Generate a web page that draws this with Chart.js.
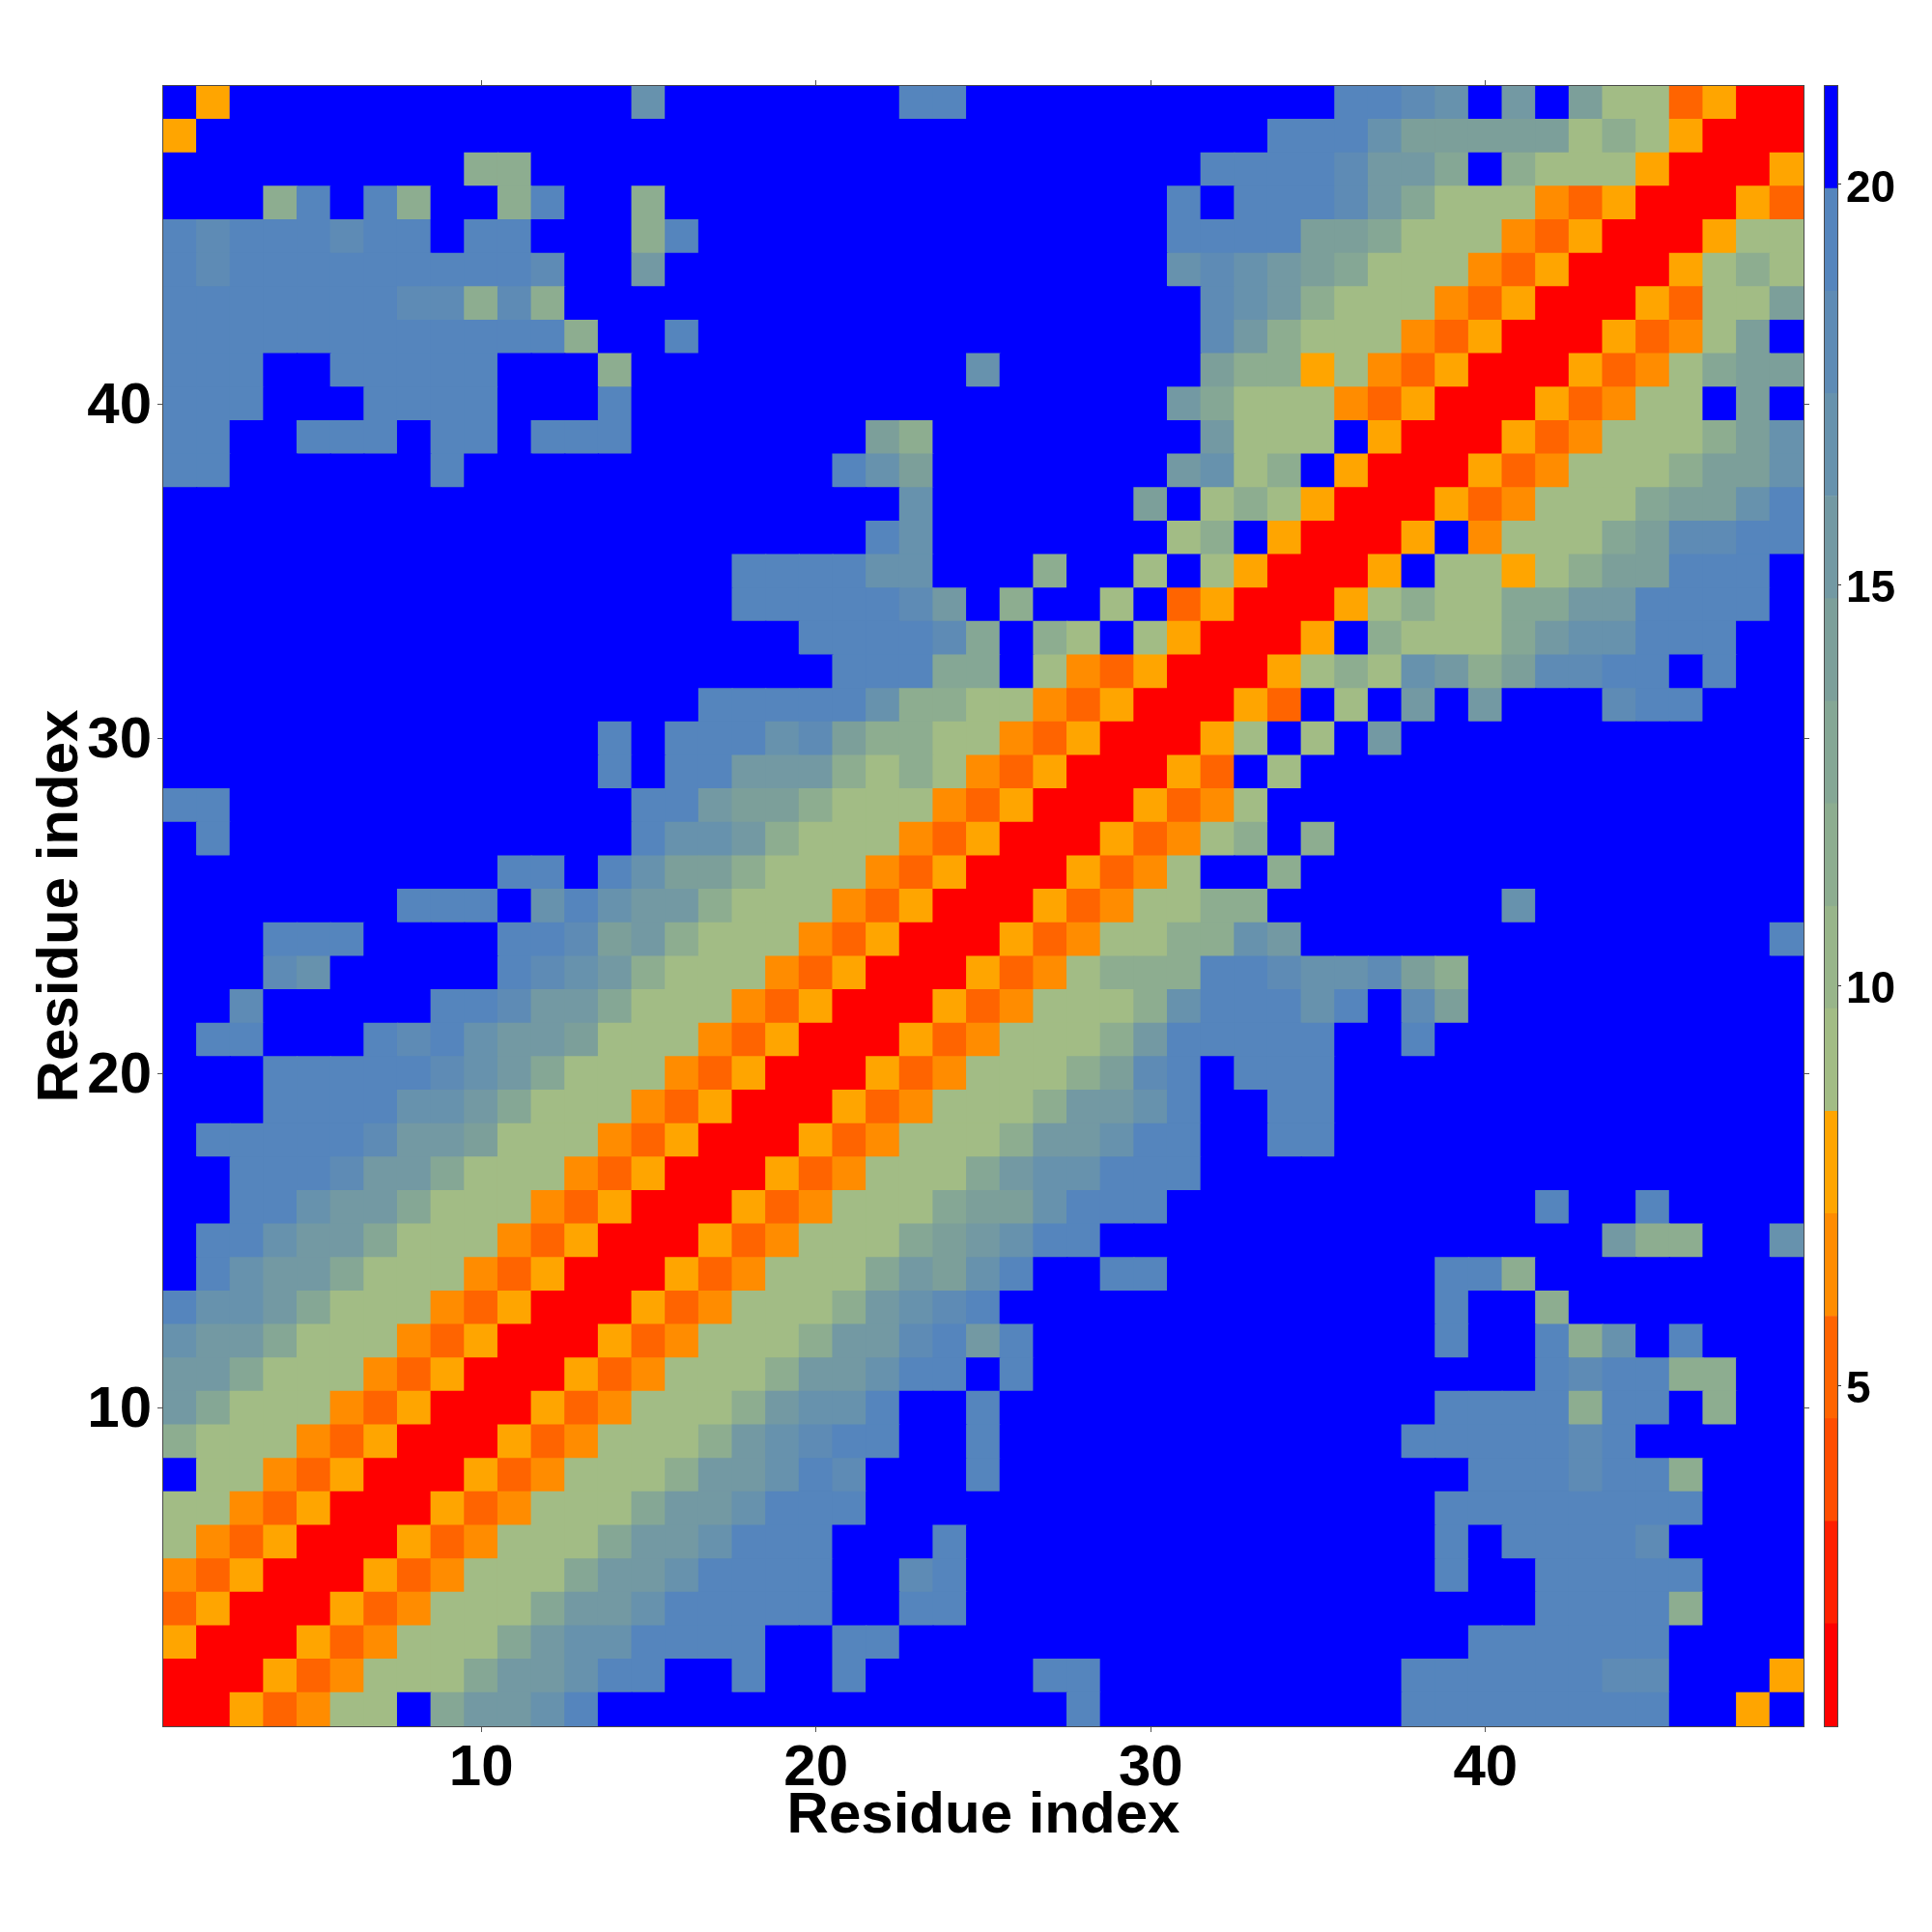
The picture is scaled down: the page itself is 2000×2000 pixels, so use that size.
<!DOCTYPE html>
<html><head><meta charset="utf-8">
<script src="https://cdn.jsdelivr.net/npm/chart.js@4/dist/chart.umd.min.js"></script>
<style>html,body{margin:0;padding:0;background:#fff}canvas{position:absolute;left:0;top:0}</style>
</head><body>
<canvas id="main" width="2000" height="2000"></canvas>
<canvas id="bar" width="2000" height="2000"></canvas>
<script>
const FONT = '"Liberation Sans", Arial, sans-serif';
const axisTitle = 'Residue index';
const axisTicks = [10, 20, 30, 40];
const barTicks = [5, 10, 15, 20];
const levelEdges = [0.75,2.03,3.31,4.59,5.87,7.15,8.43,9.71,10.99,12.27,13.55,14.83,16.11,17.39,18.67,19.95,21.23];
const levelColors = ['#ff0000','#ff2000','#ff4d00','#ff6400','#ff8c00','#ffa500','#a2bc85','#98b58a','#8dad90','#85a795','#7c9f9a','#7399a3','#6792ad','#5e8bb5','#5585bd','#0000ff'];
const row01=[2,2,8,5,7,9,9,21,13,15,15,17,19,21,21,21,21,21,21,21,21,21,21,21,21,21,21,19,21,21,21,21,21,21,21,21,21,19,19,19,19,19,19,19,19,21,21,8,21];
const row02=[2,2,2,8,5,7,9,9,9,13,15,15,17,19,19,21,21,19,21,21,19,21,21,21,21,21,19,19,21,21,21,21,21,21,21,21,21,19,19,19,19,19,19,18,18,21,21,21,8];
const row03=[8,2,2,2,8,5,7,9,9,9,13,15,17,17,19,19,19,19,21,21,19,19,21,21,21,21,21,21,21,21,21,21,21,21,21,21,21,21,21,19,19,19,19,19,19,21,21,21,21];
const row04=[5,8,2,2,2,8,5,7,9,9,9,13,15,15,17,19,19,19,19,19,21,21,19,19,21,21,21,21,21,21,21,21,21,21,21,21,21,21,21,21,21,19,19,19,19,11,21,21,21];
const row05=[7,5,8,2,2,2,8,5,7,9,9,9,13,15,15,17,19,19,19,19,21,21,18,19,21,21,21,21,21,21,21,21,21,21,21,21,21,21,19,21,21,19,19,19,19,19,21,21,21];
const row06=[9,7,5,8,2,2,2,8,5,7,9,9,9,13,15,15,17,19,19,19,21,21,21,19,21,21,21,21,21,21,21,21,21,21,21,21,21,21,19,21,19,19,19,19,18,21,21,21,21];
const row07=[9,9,7,5,8,2,2,2,8,5,7,9,9,9,13,15,15,17,19,19,19,21,21,21,21,21,21,21,21,21,21,21,21,21,21,21,21,21,19,19,19,19,19,19,19,19,21,21,21];
const row08=[21,9,9,7,5,8,2,2,2,8,5,7,9,9,9,11,15,15,17,19,18,21,21,21,19,21,21,21,21,21,21,21,21,21,21,21,21,21,21,19,19,19,18,19,19,11,21,21,21];
const row09=[11,9,9,9,7,5,8,2,2,2,8,5,7,9,9,9,11,15,17,18,19,19,21,21,19,21,21,21,21,21,21,21,21,21,21,21,21,19,19,19,19,19,18,19,21,21,21,21,21];
const row10=[15,13,9,9,9,7,5,8,2,2,2,8,5,7,9,9,9,11,15,17,17,19,21,21,19,21,21,21,21,21,21,21,21,21,21,21,21,21,19,19,19,19,11,19,19,21,11,21,21];
const row11=[15,15,13,9,9,9,7,5,8,2,2,2,8,5,7,9,9,9,11,15,15,17,19,19,21,19,21,21,21,21,21,21,21,21,21,21,21,21,21,21,21,19,18,19,19,11,11,21,21];
const row12=[17,15,15,13,9,9,9,7,5,8,2,2,2,8,5,7,9,9,9,11,15,15,18,19,15,19,21,21,21,21,21,21,21,21,21,21,21,21,19,21,21,19,11,17,21,19,21,21,21];
const row13=[19,17,17,15,13,9,9,9,7,5,8,2,2,2,8,5,7,9,9,9,11,15,17,18,19,21,21,21,21,21,21,21,21,21,21,21,21,21,19,21,21,11,21,21,21,21,21,21,21];
const row14=[21,19,17,15,15,13,9,9,9,7,5,8,2,2,2,8,5,7,9,9,9,13,15,14,17,19,21,21,19,19,21,21,21,21,21,21,21,21,19,19,11,21,21,21,21,21,21,21,21];
const row15=[21,19,19,17,15,15,13,9,9,9,7,5,8,2,2,2,8,5,7,9,9,9,13,14,15,17,19,19,21,21,21,21,21,21,21,21,21,21,21,21,21,21,21,15,11,11,21,21,17];
const row16=[21,21,19,19,17,15,15,13,9,9,9,7,5,8,2,2,2,8,5,7,9,9,9,13,14,14,17,19,19,19,21,21,21,21,21,21,21,21,21,21,21,19,21,21,19,21,21,21,21];
const row17=[21,21,19,19,19,18,15,15,13,9,9,9,7,5,8,2,2,2,8,5,7,9,9,9,13,15,17,17,19,19,19,21,21,21,21,21,21,21,21,21,21,21,21,21,21,21,21,21,21];
const row18=[21,19,19,19,19,19,18,15,15,14,9,9,9,7,5,8,2,2,2,8,5,7,9,9,9,11,15,15,17,19,19,21,21,19,19,21,21,21,21,21,21,21,21,21,21,21,21,21,21];
const row19=[21,21,21,19,19,19,19,17,17,15,13,9,9,9,7,5,8,2,2,2,8,5,7,9,9,9,11,15,15,17,19,21,21,19,19,21,21,21,21,21,21,21,21,21,21,21,21,21,21];
const row20=[21,21,21,19,19,19,19,19,18,17,15,13,9,9,9,7,5,8,2,2,2,8,5,7,9,9,9,11,14,18,19,21,19,19,19,21,21,21,21,21,21,21,21,21,21,21,21,21,21];
const row21=[21,19,19,21,21,21,19,18,19,17,15,15,14,9,9,9,7,5,8,2,2,2,8,5,7,9,9,9,11,15,19,19,19,19,19,21,21,19,21,21,21,21,21,21,21,21,21,21,21];
const row22=[21,21,18,21,21,21,21,21,19,19,18,15,15,13,9,9,9,7,5,8,2,2,2,8,5,7,9,9,9,11,17,19,19,19,17,19,21,18,14,21,21,21,21,21,21,21,21,21,21];
const row23=[21,21,21,18,17,21,21,21,21,21,19,18,17,15,11,9,9,9,7,5,8,2,2,2,8,5,7,9,11,11,11,19,19,18,17,17,18,14,11,21,21,21,21,21,21,21,21,21,21];
const row24=[21,21,21,19,19,19,21,21,21,21,19,19,18,14,15,11,9,9,9,7,5,8,2,2,2,8,5,7,9,9,11,11,17,15,21,21,21,21,21,21,21,21,21,21,21,21,21,21,19];
const row25=[21,21,21,21,21,21,21,19,19,19,21,17,19,17,15,15,11,9,9,9,7,5,8,2,2,2,8,5,7,9,9,11,11,21,21,21,21,21,21,21,17,21,21,21,21,21,21,21,21];
const row26=[21,21,21,21,21,21,21,21,21,21,19,19,21,19,17,14,14,11,9,9,9,7,5,8,2,2,2,8,5,7,9,21,21,11,21,21,21,21,21,21,21,21,21,21,21,21,21,21,21];
const row27=[21,19,21,21,21,21,21,21,21,21,21,21,21,21,19,17,17,15,11,9,9,9,7,5,8,2,2,2,8,5,7,9,11,21,11,21,21,21,21,21,21,21,21,21,21,21,21,21,21];
const row28=[19,19,21,21,21,21,21,21,21,21,21,21,21,21,19,19,15,14,14,11,9,9,9,7,5,8,2,2,2,8,5,7,9,21,21,21,21,21,21,21,21,21,21,21,21,21,21,21,21];
const row29=[21,21,21,21,21,21,21,21,21,21,21,21,21,19,21,19,19,15,15,15,11,9,11,9,7,5,8,2,2,2,8,5,21,9,21,21,21,21,21,21,21,21,21,21,21,21,21,21,21];
const row30=[21,21,21,21,21,21,21,21,21,21,21,21,21,19,21,19,19,19,17,18,14,11,11,9,9,7,5,8,2,2,2,8,9,21,9,21,15,21,21,21,21,21,21,21,21,21,21,21,21];
const row31=[21,21,21,21,21,21,21,21,21,21,21,21,21,21,21,21,19,19,19,19,19,17,11,11,9,9,7,5,8,2,2,2,8,5,21,9,21,15,21,15,21,21,21,18,19,19,21,21,21];
const row32=[21,21,21,21,21,21,21,21,21,21,21,21,21,21,21,21,21,21,21,21,19,19,19,13,13,21,9,7,5,8,2,2,2,8,9,11,9,17,15,11,14,18,18,19,19,21,19,21,21];
const row33=[21,21,21,21,21,21,21,21,21,21,21,21,21,21,21,21,21,21,21,19,19,19,19,18,13,21,11,9,21,9,8,2,2,2,8,21,11,9,9,9,13,15,17,17,19,19,19,21,21];
const row34=[21,21,21,21,21,21,21,21,21,21,21,21,21,21,21,21,21,19,19,19,19,19,18,15,21,11,21,21,9,21,5,8,2,2,2,8,9,11,9,9,13,13,15,15,19,19,19,19,21];
const row35=[21,21,21,21,21,21,21,21,21,21,21,21,21,21,21,21,21,19,19,19,19,17,17,21,21,21,11,21,21,9,21,9,8,2,2,2,8,21,9,9,8,9,11,14,14,19,19,19,21];
const row36=[21,21,21,21,21,21,21,21,21,21,21,21,21,21,21,21,21,21,21,21,21,19,17,21,21,21,21,21,21,21,9,11,21,8,2,2,2,8,21,7,9,9,9,13,14,18,18,19,19];
const row37=[21,21,21,21,21,21,21,21,21,21,21,21,21,21,21,21,21,21,21,21,21,21,17,21,21,21,21,21,21,14,21,9,11,9,8,2,2,2,8,5,7,9,9,9,13,14,14,17,19];
const row38=[19,19,21,21,21,21,21,21,19,21,21,21,21,21,21,21,21,21,21,21,19,17,14,21,21,21,21,21,21,21,15,17,9,11,21,8,2,2,2,8,5,7,9,9,9,11,14,14,17];
const row39=[19,19,21,21,19,19,19,21,19,19,21,19,19,19,21,21,21,21,21,21,21,14,11,21,21,21,21,21,21,21,21,15,9,9,9,21,8,2,2,2,8,5,7,9,9,9,11,14,17];
const row40=[19,19,19,21,21,21,19,19,19,19,21,21,21,19,21,21,21,21,21,21,21,21,21,21,21,21,21,21,21,21,15,13,9,9,9,7,5,8,2,2,2,8,5,7,9,9,21,14,21];
const row41=[19,19,19,21,21,19,19,19,19,19,21,21,21,11,21,21,21,21,21,21,21,21,21,21,17,21,21,21,21,21,21,14,11,11,8,9,7,5,8,2,2,2,8,5,7,9,13,14,14];
const row42=[19,19,19,19,19,19,19,19,19,19,19,19,11,21,21,19,21,21,21,21,21,21,21,21,21,21,21,21,21,21,21,18,15,11,9,9,9,7,5,8,2,2,2,8,5,7,9,14,21];
const row43=[19,19,19,19,19,19,19,18,18,11,18,11,21,21,21,21,21,21,21,21,21,21,21,21,21,21,21,21,21,21,21,18,17,15,11,9,9,9,7,5,8,2,2,2,8,5,9,9,14];
const row44=[19,18,19,19,19,19,19,19,19,19,19,18,21,21,15,21,21,21,21,21,21,21,21,21,21,21,21,21,21,21,17,18,17,15,14,13,9,9,9,7,5,8,2,2,2,8,9,11,9];
const row45=[19,18,19,19,19,18,19,19,21,19,19,21,21,21,11,19,21,21,21,21,21,21,21,21,21,21,21,21,21,21,19,19,19,19,14,14,13,9,9,9,7,5,8,2,2,2,8,9,9];
const row46=[21,21,21,11,19,21,19,11,21,21,11,19,21,21,11,21,21,21,21,21,21,21,21,21,21,21,21,21,21,21,19,21,19,19,19,18,15,13,9,9,9,7,5,8,2,2,2,8,5];
const row47=[21,21,21,21,21,21,21,21,21,11,11,21,21,21,21,21,21,21,21,21,21,21,21,21,21,21,21,21,21,21,21,19,19,19,19,18,15,15,13,21,11,9,9,9,8,2,2,2,8];
const row48=[8,21,21,21,21,21,21,21,21,21,21,21,21,21,21,21,21,21,21,21,21,21,21,21,21,21,21,21,21,21,21,21,21,19,19,19,17,14,14,14,14,14,9,11,9,8,2,2,2];
const row49=[21,8,21,21,21,21,21,21,21,21,21,21,21,21,17,21,21,21,21,21,21,21,19,19,21,21,21,21,21,21,21,21,21,21,21,19,19,18,17,21,15,21,14,9,9,5,8,2,2];
const rows=[row01,row02,row03,row04,row05,row06,row07,row08,row09,row10,row11,row12,row13,row14,row15,row16,row17,row18,row19,row20,row21,row22,row23,row24,row25,row26,row27,row28,row29,row30,row31,row32,row33,row34,row35,row36,row37,row38,row39,row40,row41,row42,row43,row44,row45,row46,row47,row48,row49];

function colorOf(v){
  for(let i=0;i<levelColors.length;i++){ if(v<levelEdges[i+1]) return levelColors[i]; }
  return levelColors[levelColors.length-1];
}
const frame={id:'frame',afterDraw(c){const a=c.chartArea,x=c.ctx;x.save();x.strokeStyle='#4a4a4a';x.lineWidth=1;
  x.strokeRect(Math.round(a.left)-.5,Math.round(a.top)-.5,Math.round(a.right-a.left)+1,Math.round(a.bottom-a.top)+1);x.restore();}};
const pickTicks=s=>{s.ticks=axisTicks.map(v=>({value:v}));};
const gridOpt={offset:false,drawOnChartArea:false,drawTicks:true,tickLength:6,tickColor:'#555',lineWidth:1};
const tickFont={family:FONT,size:60,weight:'bold'};
const titleFont={family:FONT,size:60,weight:'bold'};

new Chart(document.getElementById('main'),{
  type:'bar',
  data:{datasets:rows.map((r,j)=>({
    data:r.map((v,i)=>({x:i+1,y:[j+0.5,j+1.5]})),
    backgroundColor:r.map(colorOf),
    borderWidth:0,barPercentage:1,categoryPercentage:1,grouped:false,inflateAmount:0.6
  }))},
  options:{
    responsive:false,animation:false,devicePixelRatio:1,
    layout:{padding:0},
    plugins:{legend:{display:false},tooltip:{enabled:false}},
    scales:{
      x:{type:'linear',offset:false,position:'bottom',min:0.5,max:49.5,afterBuildTicks:pickTicks,afterFit:s=>{s.height=213;},
        grid:gridOpt,border:{display:false},
        ticks:{autoSkip:false,maxRotation:0,font:tickFont,color:'#000',padding:2},
        title:{display:true,text:axisTitle,font:titleFont,color:'#000',padding:{top:0,bottom:84}}},
      y:{type:'linear',position:'left',min:0.5,max:49.5,afterBuildTicks:pickTicks,afterFit:s=>{s.width=169;},
        grid:gridOpt,border:{display:false},
        ticks:{autoSkip:false,font:tickFont,color:'#000',padding:6,labelOffset:3},
        title:{display:true,text:axisTitle,font:titleFont,color:'#000',padding:{top:27,bottom:0}}},
      xTop:{type:'linear',offset:false,position:'top',min:0.5,max:49.5,afterBuildTicks:pickTicks,afterFit:s=>{s.height=89;},
        grid:gridOpt,border:{display:false},ticks:{display:false}},
      yRight:{type:'linear',position:'right',min:0.5,max:49.5,afterBuildTicks:pickTicks,afterFit:s=>{s.width=133;},
        grid:gridOpt,border:{display:false},ticks:{display:false}}
    }
  },
  plugins:[frame]
});

new Chart(document.getElementById('bar'),{
  type:'bar',
  data:{labels:['scale'],datasets:levelColors.map((c,i)=>({
    data:[[levelEdges[i],levelEdges[i+1]]],backgroundColor:c,borderWidth:0,
    barPercentage:1,categoryPercentage:1,grouped:false
  }))},
  options:{
    responsive:false,animation:false,devicePixelRatio:1,
    layout:{padding:{left:1889,top:89,bottom:213,right:0}},
    plugins:{legend:{display:false},tooltip:{enabled:false}},
    scales:{
      x:{display:false},
      y:{position:'right',min:levelEdges[0],max:levelEdges[levelEdges.length-1],
        afterBuildTicks:s=>{s.ticks=barTicks.map(v=>({value:v}));},afterFit:s=>{s.width=98;},
        grid:{drawOnChartArea:false,tickLength:4,tickColor:'#333'},border:{display:false},
        ticks:{autoSkip:false,font:{family:FONT,size:46,weight:'bold'},color:'#000',padding:5,labelOffset:5}}
    }
  },
  plugins:[frame]
});
</script>
</body></html>
